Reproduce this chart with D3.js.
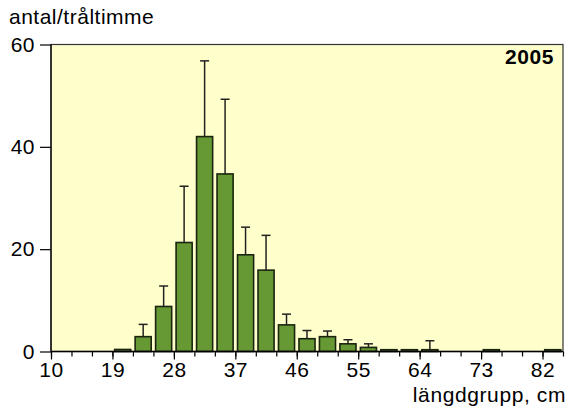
<!DOCTYPE html>
<html><head><meta charset="utf-8">
<script src="https://cdn.jsdelivr.net/npm/d3@7"></script>
<style>body{margin:0;background:#fff;}svg{display:block;}text{font-family:"Liberation Sans",Arial,sans-serif;fill:#000;}</style>
</head><body>
<svg id="c" width="571" height="412"></svg>
<script>
const classes = [19,22,25,28,31,34,37,40,43,46,49,52,55,58,61,64,67,70,73,76,79,82];
const values  = [0.4,2.9,8.8,21.3,42.0,34.7,18.9,15.9,5.2,2.5,2.9,1.5,0.8,0.35,0.35,0.35,0,0,0.35,0,0,0.35];
const upperErr = [null,5.3,12.8,32.3,56.8,49.3,24.3,22.7,7.3,4.1,4.0,2.3,1.5,null,null,2.1,null,null,null,null,null,null];
const xTickLabels = [10,19,28,37,46,55,64,73,82];
const minorTicks = d3.range(10, 86, 3);
const yTicks = [0,20,40,60];
const yTitle = "antal/tråltimme";
const xTitle = "längdgrupp, cm";
const yearLabel = "2005";

const L = 51, R = 563, T = 44.5, B = 351.5;
const FS = 21, LS = 0.5;
const svg = d3.select("#c");
const x = d3.scaleLinear().domain([10, 85]).range([L, R]);
const y = d3.scaleLinear().domain([0, 60]).range([B, T]);

svg.append("rect").attr("x", L).attr("y", T).attr("width", R - L).attr("height", B - T)
  .attr("fill", "#ffffcc");

const g = svg.append("g");
const data = classes.map((c, i) => ({c, v: values[i], e: upperErr[i]}));

// error bars
const eb = data.filter(d => d.e != null);
g.selectAll("line.err").data(eb).enter().append("line")
  .attr("x1", d => (x(d.c) + x(d.c + 3)) / 2).attr("x2", d => (x(d.c) + x(d.c + 3)) / 2)
  .attr("y1", d => y(d.v)).attr("y2", d => y(d.e))
  .attr("stroke", "#222").attr("stroke-width", 1.5);
g.selectAll("line.cap").data(eb).enter().append("line")
  .attr("x1", d => (x(d.c) + x(d.c + 3)) / 2 - 4.5).attr("x2", d => (x(d.c) + x(d.c + 3)) / 2 + 4.5)
  .attr("y1", d => y(d.e)).attr("y2", d => y(d.e))
  .attr("stroke", "#222").attr("stroke-width", 1.5);

// bars
g.selectAll("rect.bar").data(data.filter(d => d.v > 0)).enter().append("rect")
  .attr("x", d => x(d.c) + 2.2).attr("width", d => x(d.c + 3) - x(d.c) - 4.4)
  .attr("y", d => y(d.v)).attr("height", d => y(0) - y(d.v))
  .attr("fill", "#669933").attr("stroke", "#1a2410").attr("stroke-width", 1.6);

// frame
svg.append("rect").attr("x", L).attr("y", T).attr("width", R - L).attr("height", B - T)
  .attr("fill", "none").attr("stroke", "#333").attr("stroke-width", 1.2);
svg.append("line").attr("x1", L).attr("x2", R).attr("y1", B).attr("y2", B).attr("stroke", "#000").attr("stroke-width", 1.5);
svg.append("line").attr("x1", L).attr("x2", L).attr("y1", T).attr("y2", B).attr("stroke", "#000").attr("stroke-width", 1.2);

// x axis
const xAxisMinor = d3.axisBottom(x).tickValues(minorTicks).tickSize(5).tickFormat("");
svg.append("g").attr("transform", `translate(0,${B})`).call(xAxisMinor)
  .call(s => s.select(".domain").remove())
  .call(s => s.selectAll("line").attr("stroke", "#000").attr("stroke-width", 1.2));
const xAxis = d3.axisBottom(x).tickValues(xTickLabels).tickSize(8).tickPadding(3).tickFormat(d3.format("d"));
svg.append("g").attr("transform", `translate(0,${B})`).call(xAxis)
  .call(s => s.select(".domain").remove())
  .call(s => s.selectAll("line").attr("stroke", "#000").attr("stroke-width", 1.2))
  .call(s => s.selectAll("text").attr("font-size", FS).attr("letter-spacing", LS).attr("font-family", "Liberation Sans, Arial, sans-serif").attr("fill", "#000"));

// y axis
const yAxis = d3.axisLeft(y).tickValues(yTicks).tickSize(11).tickPadding(5).tickFormat(d3.format("d"));
svg.append("g").attr("transform", `translate(${L},0)`).call(yAxis)
  .call(s => s.select(".domain").remove())
  .call(s => s.selectAll("line").attr("stroke", "#000").attr("stroke-width", 1.2))
  .call(s => s.selectAll("text").attr("font-size", FS).attr("letter-spacing", LS).attr("font-family", "Liberation Sans, Arial, sans-serif").attr("fill", "#000"));

svg.append("text").attr("x", 9).attr("y", 24).attr("font-size", FS).attr("letter-spacing", LS).text(yTitle);
svg.append("text").attr("x", 566).attr("y", 402).attr("font-size", FS).attr("letter-spacing", 0.6).attr("text-anchor", "end").text(xTitle);
svg.append("text").attr("x", 554).attr("y", 64).attr("font-size", FS).attr("letter-spacing", 0.6).attr("font-weight", "bold").attr("text-anchor", "end").text(yearLabel);
</script>
</body></html>
